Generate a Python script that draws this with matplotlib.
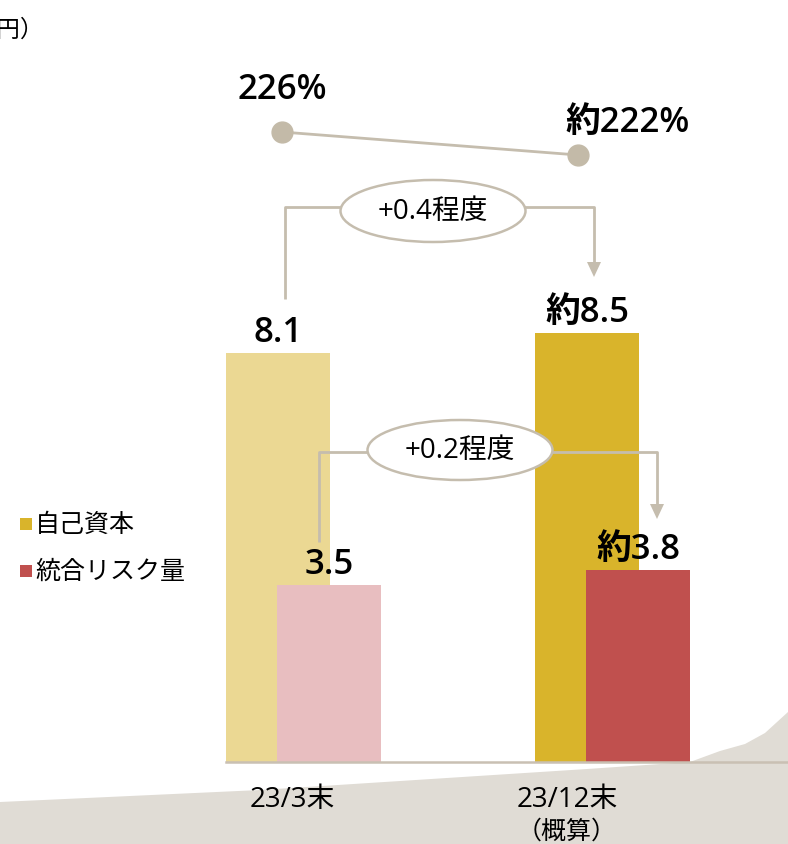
import matplotlib
matplotlib.use("Agg")
import matplotlib.pyplot as plt
from matplotlib.patches import Polygon, Ellipse, Rectangle

# ---------------- data ----------------
categories = ["23/3末", "23/12末\n（概算）"]
capital = [8.1, 8.5]            # 自己資本
risk = [3.5, 3.8]               # 統合リスク量
capital_labels = ["8.1", "約8.5"]
risk_labels = ["3.5", "約3.8"]
ratio = [226, 222]              # ESR
ratio_labels = ["226%", "約222%"]
delta_labels = ["+0.4程度", "+0.2程度"]
legend_labels = ["自己資本", "統合リスク量"]
unit_label = "（兆円）"

# ---------------- style ----------------
W, H = 788, 845
FONT = ["Noto Sans CJK JP", "DejaVu Sans"]
NUMFONT = ["Open Sans", "Noto Sans CJK JP"]
plt.rcParams["font.family"] = FONT
c_cap = ["#ebd893", "#d9b42b"]
c_risk = ["#e8bec0", "#c0504e"]
c_line = "#c5bdae"
c_bg = "#e0dcd5"

fig = plt.figure(figsize=(W / 100, H / 100), dpi=100)
ax = fig.add_axes([0, 0, 1, 1])
ax.axis("off")

# pixel geometry
base_px = 763
ppu = 50.5
pos0_px, spacing_px = 303.5, 309.0
ax.set_xlim(-pos0_px / spacing_px, (W - pos0_px) / spacing_px)
ax.set_ylim(-(H - base_px) / ppu, base_px / ppu)
TF = fig.transFigure


def fx(px):
    return px / W


def fy(py):
    return 1 - py / H


def dx(px):
    return (px - pos0_px) / spacing_px


def dy(py):
    return (base_px - py) / ppu


# background wave
bg = [(0, 803), (260, 791), (587, 770), (690, 763), (720, 752), (745, 745),
      (765, 734), (788, 713), (788, 845), (0, 845)]
ax.add_patch(Polygon([(fx(x), fy(y)) for x, y in bg], closed=True,
                     transform=TF, facecolor=c_bg, edgecolor="none", zorder=0))

# bars
bw = 104 / spacing_px
off = 25.5 / spacing_px
xs = list(range(len(categories)))
for i in xs:
    ax.bar(i - off, capital[i], width=bw, color=c_cap[i], zorder=2)
    ax.bar(i + off, risk[i], width=bw, color=c_risk[i], zorder=3)
    ax.annotate(capital_labels[i], (i - off, capital[i]), xytext=(0, 3),
                textcoords="offset points", ha="center", va="bottom",
                fontsize=25, fontweight="semibold", family=NUMFONT, zorder=6)
    ax.annotate(risk_labels[i], (i + off, risk[i]), xytext=(0, 3),
                textcoords="offset points", ha="center", va="bottom",
                fontsize=25, fontweight="semibold", family=NUMFONT, zorder=6)

# baseline
ax.plot([dx(226), dx(788)], [0, 0], color="#c9c0b3", lw=1.8, zorder=4)

# category labels
ax.text(dx(292), dy(800), categories[0], ha="center", va="center", fontsize=20,
        family=NUMFONT, zorder=6)
ax.text(dx(567), dy(800), "23/12末", ha="center", va="center", fontsize=20,
        family=NUMFONT, zorder=6)
ax.text(dx(567), dy(832), "（概算）", ha="center", va="center", fontsize=18,
        zorder=6)

# ratio line (secondary scale)
ax2 = ax.twinx()
ax2.axis("off")
rp = 5.75
ax2.set_ylim(ratio[0] - (H - 133) / rp, ratio[0] + 133 / rp)
rx = [dx(282), dx(578)]
ax2.plot(rx, ratio, color=c_line, lw=2, marker="o", markersize=15,
         markerfacecolor="#c3baa8", markeredgecolor="#c3baa8", zorder=5)
ax2.text(rx[0], ratio[0] + 43 / rp, ratio_labels[0], ha="center", va="center",
         fontsize=25, fontweight="semibold", family=NUMFONT)
ax2.text(dx(628), ratio[1] + 33 / rp, ratio_labels[1], ha="center", va="center",
         fontsize=25, fontweight="semibold", family=NUMFONT)


# brackets with arrows
def bracket(x0, y0, yh, x1, y1, ell_c, ell_w, ell_h, label):
    ax.plot([dx(x0), dx(x0), dx(x1), dx(x1)], [dy(y0), dy(yh), dy(yh), dy(y1 - 13)],
            color=c_line, lw=2, zorder=5, solid_capstyle="butt")
    tri = [(fx(x1 - 7), fy(y1 - 15)), (fx(x1 + 7), fy(y1 - 15)), (fx(x1), fy(y1))]
    ax.add_patch(Polygon(tri, closed=True, transform=TF, facecolor=c_line,
                         edgecolor="none", zorder=6))
    ax.add_patch(Ellipse((fx(ell_c[0]), fy(ell_c[1])), ell_w / W, ell_h / H,
                         transform=TF, facecolor="white", edgecolor=c_line,
                         lw=1.8, zorder=7))
    ax.text(fx(ell_c[0]), fy(ell_c[1]), label, transform=TF, ha="center",
            va="center", fontsize=20, family=NUMFONT, zorder=8)


bracket(285, 300, 208, 594, 278, (433, 212), 185, 62, delta_labels[0])
bracket(319, 543, 453, 657, 520, (460, 451), 185, 60, delta_labels[1])

# legend
for k, (lab, col) in enumerate(zip(legend_labels, [c_cap[1], c_risk[1]])):
    yc = 525 + 47 * k
    ax.add_patch(Rectangle((fx(20), fy(yc + 6)), 12 / W, 12 / H, transform=TF,
                           facecolor=col, edgecolor="none", zorder=6))
    ax.text(fx(35), fy(yc), lab, transform=TF, ha="left", va="center",
            fontsize=18, zorder=6)

# unit label (partially cut off at left, as in the reference)
ax.text(fx(44), fy(30), unit_label, transform=TF, ha="right", va="center",
        fontsize=17, zorder=6)

fig.savefig("out.png", dpi=100)
